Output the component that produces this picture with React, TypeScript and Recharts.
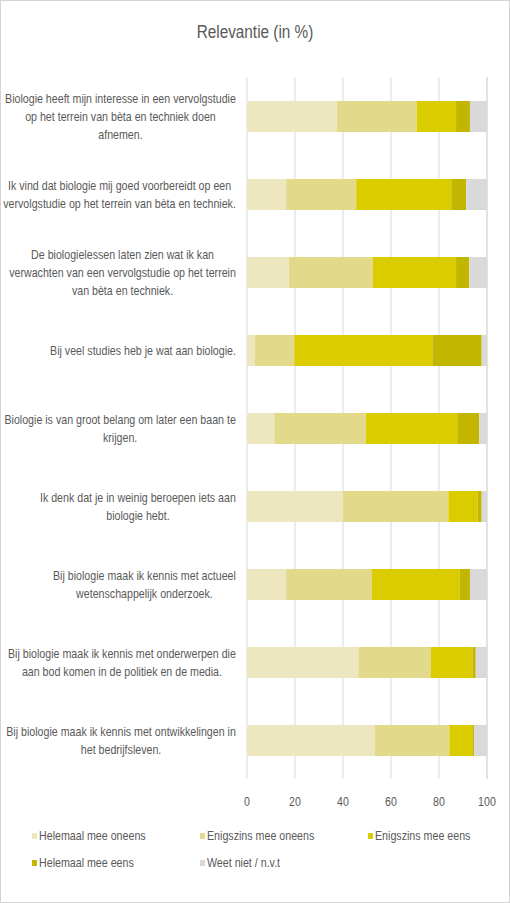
import React from "react";
import {
  Bar,
  BarChart,
  CartesianGrid,
  Legend,
  XAxis,
  YAxis,
} from "recharts";

const categories = [
  "Biologie heeft mijn interesse in een vervolgstudie\nop het terrein van bèta en techniek doen\nafnemen.",
  "Ik vind dat biologie mij goed voorbereidt op een\nvervolgstudie op het terrein van bèta en techniek.",
  "De biologielessen laten zien wat ik kan\nverwachten van een vervolgstudie op het terrein\nvan bèta en techniek.",
  "Bij veel studies heb je wat aan biologie.",
  "Biologie is van groot belang om later een baan te\nkrijgen.",
  "Ik denk dat je in weinig beroepen iets aan\nbiologie hebt.",
  "Bij biologie maak ik kennis met actueel\nwetenschappelijk onderzoek.",
  "Bij biologie maak ik kennis met onderwerpen die\naan bod komen in de politiek en de media.",
  "Bij biologie maak ik kennis met ontwikkelingen in\nhet bedrijfsleven.",
];

const helemaalOneens = [37.4, 16.3, 17.4, 3.2, 11.4, 40.0, 16.3, 46.4, 53.3];
const enigszinsOneens = [33.3, 29.2, 35.0, 16.5, 38.2, 43.9, 35.8, 30.1, 31.0];
const enigszinsEens = [16.4, 39.6, 34.7, 57.5, 38.0, 12.2, 36.4, 17.4, 9.6];
const helemaalEens = [5.8, 6.2, 5.5, 20.6, 9.2, 1.7, 4.4, 1.4, 0.8];
const weetNiet = [7.1, 8.7, 7.4, 2.2, 3.2, 2.2, 7.1, 4.7, 5.3];

const xTicks = [0, 20, 40, 60, 80, 100];

const series = [
  { key: "helemaalOneens", name: "Helemaal mee oneens", color: "#ede7bf" },
  { key: "enigszinsOneens", name: "Enigszins mee oneens", color: "#e2d98b" },
  { key: "enigszinsEens", name: "Enigszins mee eens", color: "#dbcc00" },
  { key: "helemaalEens", name: "Helemaal mee eens", color: "#c3b600" },
  { key: "weetNiet", name: "Weet niet / n.v.t", color: "#d9d9d9" },
];

const data = categories.map((label, i) => ({
  label,
  helemaalOneens: helemaalOneens[i],
  enigszinsOneens: enigszinsOneens[i],
  enigszinsEens: enigszinsEens[i],
  helemaalEens: helemaalEens[i],
  weetNiet: weetNiet[i],
}));

// no Arial Narrow here, so squeeze Liberation Sans horizontally
const FONT = '"Liberation Sans", Arial, sans-serif';
const NARROW = 0.82;
const TEXT = "#595959";
const LABEL_SIZE = 13;
const LINE_H = 18;

let ctx: CanvasRenderingContext2D | null = null;
function measure(s: string) {
  if (!ctx) ctx = document.createElement("canvas").getContext("2d");
  if (!ctx) return s.length * 5.5 * NARROW;
  ctx.font = `${LABEL_SIZE}px ${FONT}`;
  return ctx.measureText(s).width * NARROW;
}

// lines centred on the widest line, whole block flush right against the axis
function CategoryTick(props: any) {
  const { x, y, payload } = props;
  const lines: string[] = String(payload.value).split("\n");
  const w = Math.max(...lines.map(measure));
  const cx = x - 3 - w / 2;
  const y0 = y - ((lines.length - 1) * LINE_H) / 2;
  return (
    <g transform={`translate(${cx},${y0}) scale(${NARROW},1)`}>
      <text textAnchor="middle" fill={TEXT} fontSize={LABEL_SIZE} fontFamily={FONT}>
        {lines.map((l, i) => (
          <tspan key={i} x={0} y={i * LINE_H} dy="0.35em">
            {l}
          </tspan>
        ))}
      </text>
    </g>
  );
}

function ValueTick(props: any) {
  const { x, y, payload } = props;
  return (
    <g transform={`translate(${x},${y}) scale(${NARROW},1)`}>
      <text textAnchor="middle" fill={TEXT} fontSize={13} fontFamily={FONT} dy="0.71em">
        {payload.value}
      </text>
    </g>
  );
}

function LegendBox() {
  return (
    <div
      style={{
        display: "grid",
        gridTemplateColumns: "168px 168px 168px",
        gridAutoRows: "27px",
        paddingLeft: 32,
        paddingTop: 3,
        height: 60,
        boxSizing: "border-box",
        fontFamily: FONT,
        fontSize: 13,
        color: TEXT,
      }}
    >
      {series.map((s) => (
        <div key={s.key} style={{ display: "flex", alignItems: "center" }}>
          <span
            style={{
              width: 5,
              height: 6,
              background: s.color,
              marginRight: 2,
              display: "inline-block",
              flex: "none",
            }}
          />
          <span
            style={{
              display: "inline-block",
              whiteSpace: "nowrap",
              transform: `scaleX(${NARROW})`,
              transformOrigin: "left center",
            }}
          >
            {s.name}
          </span>
        </div>
      ))}
    </div>
  );
}

export default function App() {
  return (
    <div
      style={{
        position: "absolute",
        left: 0,
        top: 0,
        width: 510,
        height: 903,
        boxSizing: "border-box",
        border: "1px solid #d4d4d4",
        background: "#fff",
      }}
    >
      <div
        style={{
          position: "absolute",
          left: 0,
          right: 0,
          top: 20,
          textAlign: "center",
          fontFamily: FONT,
          fontSize: 18.7,
          color: TEXT,
          transform: `scaleX(${NARROW})`,
        }}
      >
        Relevantie (in %)
      </div>
      <div style={{ position: "absolute", left: -1, top: -1 }}>
        <BarChart
          width={510}
          height={903}
          data={data}
          layout="vertical"
          margin={{ top: 77, right: 23, left: 0, bottom: 24 }}
        >
          <CartesianGrid stroke="#d9d9d9" horizontal={false} />
          <XAxis
            type="number"
            domain={[0, 100]}
            ticks={xTicks}
            axisLine={false}
            tickLine={false}
            tickMargin={12}
            height={40}
            tick={<ValueTick />}
            interval={0}
          />
          <YAxis
            type="category"
            dataKey="label"
            width={247}
            axisLine={false}
            tickLine={false}
            tick={<CategoryTick />}
            interval={0}
          />
          <Legend verticalAlign="bottom" content={<LegendBox />} />
          {series.map((s) => (
            <Bar
              key={s.key}
              dataKey={s.key}
              name={s.name}
              stackId="a"
              fill={s.color}
              barSize={31}
              isAnimationActive={false}
            />
          ))}
        </BarChart>
      </div>
    </div>
  );
}
